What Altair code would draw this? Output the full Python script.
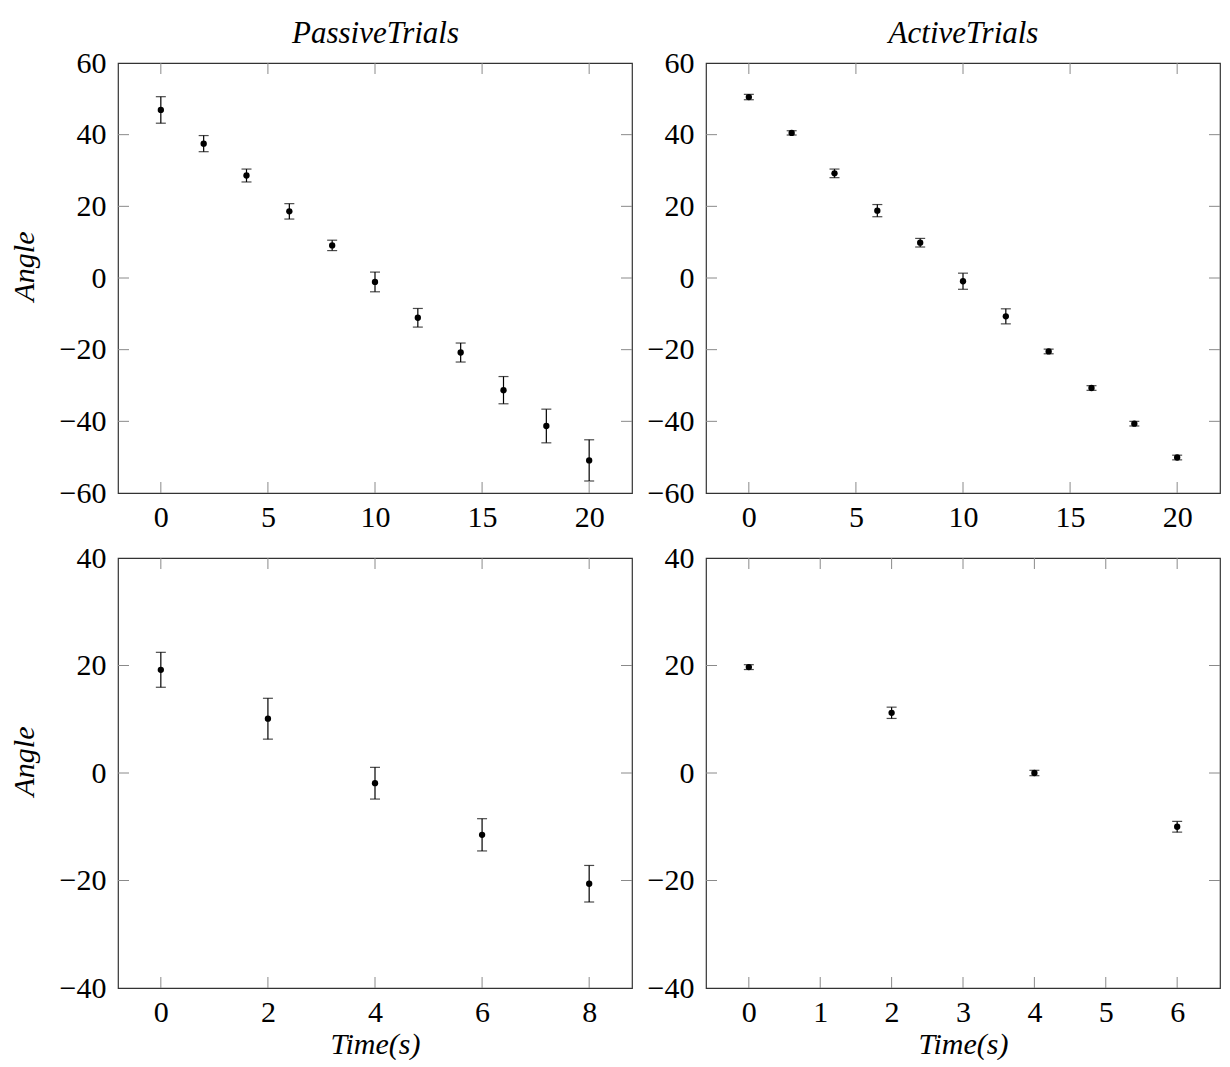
import altair as alt
import pandas as pd

# ---- data ----
time_long = [0, 2, 4, 6, 8, 10, 12, 14, 16, 18, 20]
passive_long_mean = [46.9, 37.5, 28.6, 18.6, 9.1, -1.1, -11.1, -20.8, -31.3, -41.3, -50.9]
passive_long_err = [3.7, 2.25, 1.8, 2.15, 1.45, 2.75, 2.6, 2.65, 3.8, 4.7, 5.75]
active_long_mean = [50.5, 40.5, 29.2, 18.8, 9.85, -0.9, -10.7, -20.5, -30.7, -40.65, -50.1]
active_long_err = [0.75, 0.6, 1.2, 1.7, 1.2, 2.25, 2.1, 0.65, 0.65, 0.65, 0.65]

time_passive_short = [0, 2, 4, 6, 8]
passive_short_mean = [19.2, 10.1, -1.9, -11.5, -20.6]
passive_short_err = [3.25, 3.8, 2.95, 3.0, 3.4]

time_active_short = [0, 2, 4, 6]
active_short_mean = [19.7, 11.2, 0.0, -10.0]
active_short_err = [0.45, 1.05, 0.5, 1.0]

xticks_long = [0, 5, 10, 15, 20]
yticks_long = [-60, -40, -20, 0, 20, 40, 60]
xticks_passive_short = [0, 2, 4, 6, 8]
xticks_active_short = [0, 1, 2, 3, 4, 5, 6]
yticks_short = [-40, -20, 0, 20, 40]

titles = ["PassiveTrials", "ActiveTrials"]
x_title = "Time(s)"
y_title = "Angle"

FONT = "Liberation Serif"
FS = 30
W, H = 514, 430
TICK = 11


def panel(t, mean, err, xdom, ydom, xticks, yticks, title=None, xtitle=None, ytitle=None):
    df = pd.DataFrame({
        "t": t,
        "a": mean,
        "lo": [m - e for m, e in zip(mean, err)],
        "hi": [m + e for m, e in zip(mean, err)],
    })
    xt = pd.DataFrame({"t": [v for v in xticks if xdom[0] < v < xdom[1]]})
    yt = pd.DataFrame({"a": [v for v in yticks if ydom[0] < v < ydom[1]]})

    xaxis_kw = dict(values=xticks, ticks=False, domain=False, grid=False,
                    labelPadding=9, labelFlush=False, format="d")
    if xtitle:
        xaxis_kw.update(title=xtitle, titlePadding=2)
    else:
        xaxis_kw.update(title="")
    yaxis_kw = dict(values=yticks, ticks=False, domain=False, grid=False,
                    labelPadding=12, labelFlush=False, format="d")
    if ytitle:
        yaxis_kw.update(title=ytitle, titlePadding=20, titleY=H / 2 - 12)
    else:
        yaxis_kw.update(title="")

    bottom_axis = alt.Axis(**xaxis_kw)
    if title:
        top_axis = alt.Axis(orient="top", title=title, labels=False, ticks=False,
                            domain=False, grid=False, minExtent=0,
                            titleFontSize=31, titleBaseline="alphabetic", titlePadding=21)
    else:
        top_axis = None

    xs = alt.Scale(domain=xdom, nice=False, zero=False)
    ys = alt.Scale(domain=ydom, nice=False, zero=False)

    def X(f="t", axis=None):
        if axis is None:
            return alt.X(f"{f}:Q", scale=xs, axis=None)
        return alt.X(f"{f}:Q", scale=xs, axis=axis)

    Y = lambda f="a": alt.Y(f"{f}:Q", scale=ys, axis=alt.Axis(**yaxis_kw))

    base = alt.Chart(df)
    bars = base.mark_rule(color="black", strokeWidth=1.2).encode(
        x=X(), y=Y("lo"), y2="hi:Q")
    cap_lo = base.mark_tick(color="black", orient="horizontal", size=10, thickness=1.2).encode(
        x=X(), y=Y("lo"))
    cap_hi = base.mark_tick(color="black", orient="horizontal", size=10, thickness=1.2).encode(
        x=X(), y=Y("hi"))
    pts = base.mark_circle(color="black", opacity=1, size=40).encode(
        x=X(axis=bottom_axis), y=Y())

    tick_style = dict(color="#8a8a8a", strokeWidth=1)
    xt_top = alt.Chart(xt).mark_rule(**tick_style).encode(
        x=X(axis=top_axis), y=alt.value(0), y2=alt.value(TICK))
    xt_bot = alt.Chart(xt).mark_rule(**tick_style).encode(
        x=X(), y=alt.value(H), y2=alt.value(H - TICK))
    yt_left = alt.Chart(yt).mark_rule(**tick_style).encode(
        y=Y(), x=alt.value(0), x2=alt.value(TICK))
    yt_right = alt.Chart(yt).mark_rule(**tick_style).encode(
        y=Y(), x=alt.value(W), x2=alt.value(W - TICK))

    layer = alt.layer(xt_top, xt_bot, yt_left, yt_right, bars, cap_lo, cap_hi, pts
                      ).resolve_axis(x="independent")
    return layer.properties(width=W, height=H)


p1 = panel(time_long, passive_long_mean, passive_long_err, [-2, 22], [-60, 60],
           xticks_long, yticks_long, title=titles[0], ytitle=y_title)
p2 = panel(time_long, active_long_mean, active_long_err, [-2, 22], [-60, 60],
           xticks_long, yticks_long, title=titles[1])
p3 = panel(time_passive_short, passive_short_mean, passive_short_err, [-0.8, 8.8], [-40, 40],
           xticks_passive_short, yticks_short, xtitle=x_title, ytitle=y_title)
p4 = panel(time_active_short, active_short_mean, active_short_err, [-0.6, 6.6], [-40, 40],
           xticks_active_short, yticks_short, xtitle=x_title)

chart = alt.concat(p1, p2, p3, p4, columns=2, spacing={"row": 65, "column": 74},
                   bounds="flush").configure(
    padding={"left": 0, "top": 8, "right": 0, "bottom": 0},
    background="white",
).configure_view(
    stroke="#333333", strokeWidth=1.2
).configure_axis(
    labelFont=FONT, labelFontSize=FS, labelColor="black",
    titleFont=FONT, titleFontSize=FS, titleFontStyle="italic", titleFontWeight="normal",
    titleColor="black",
)

chart.save("out.html", embed_options={"renderer": "svg", "actions": False})
